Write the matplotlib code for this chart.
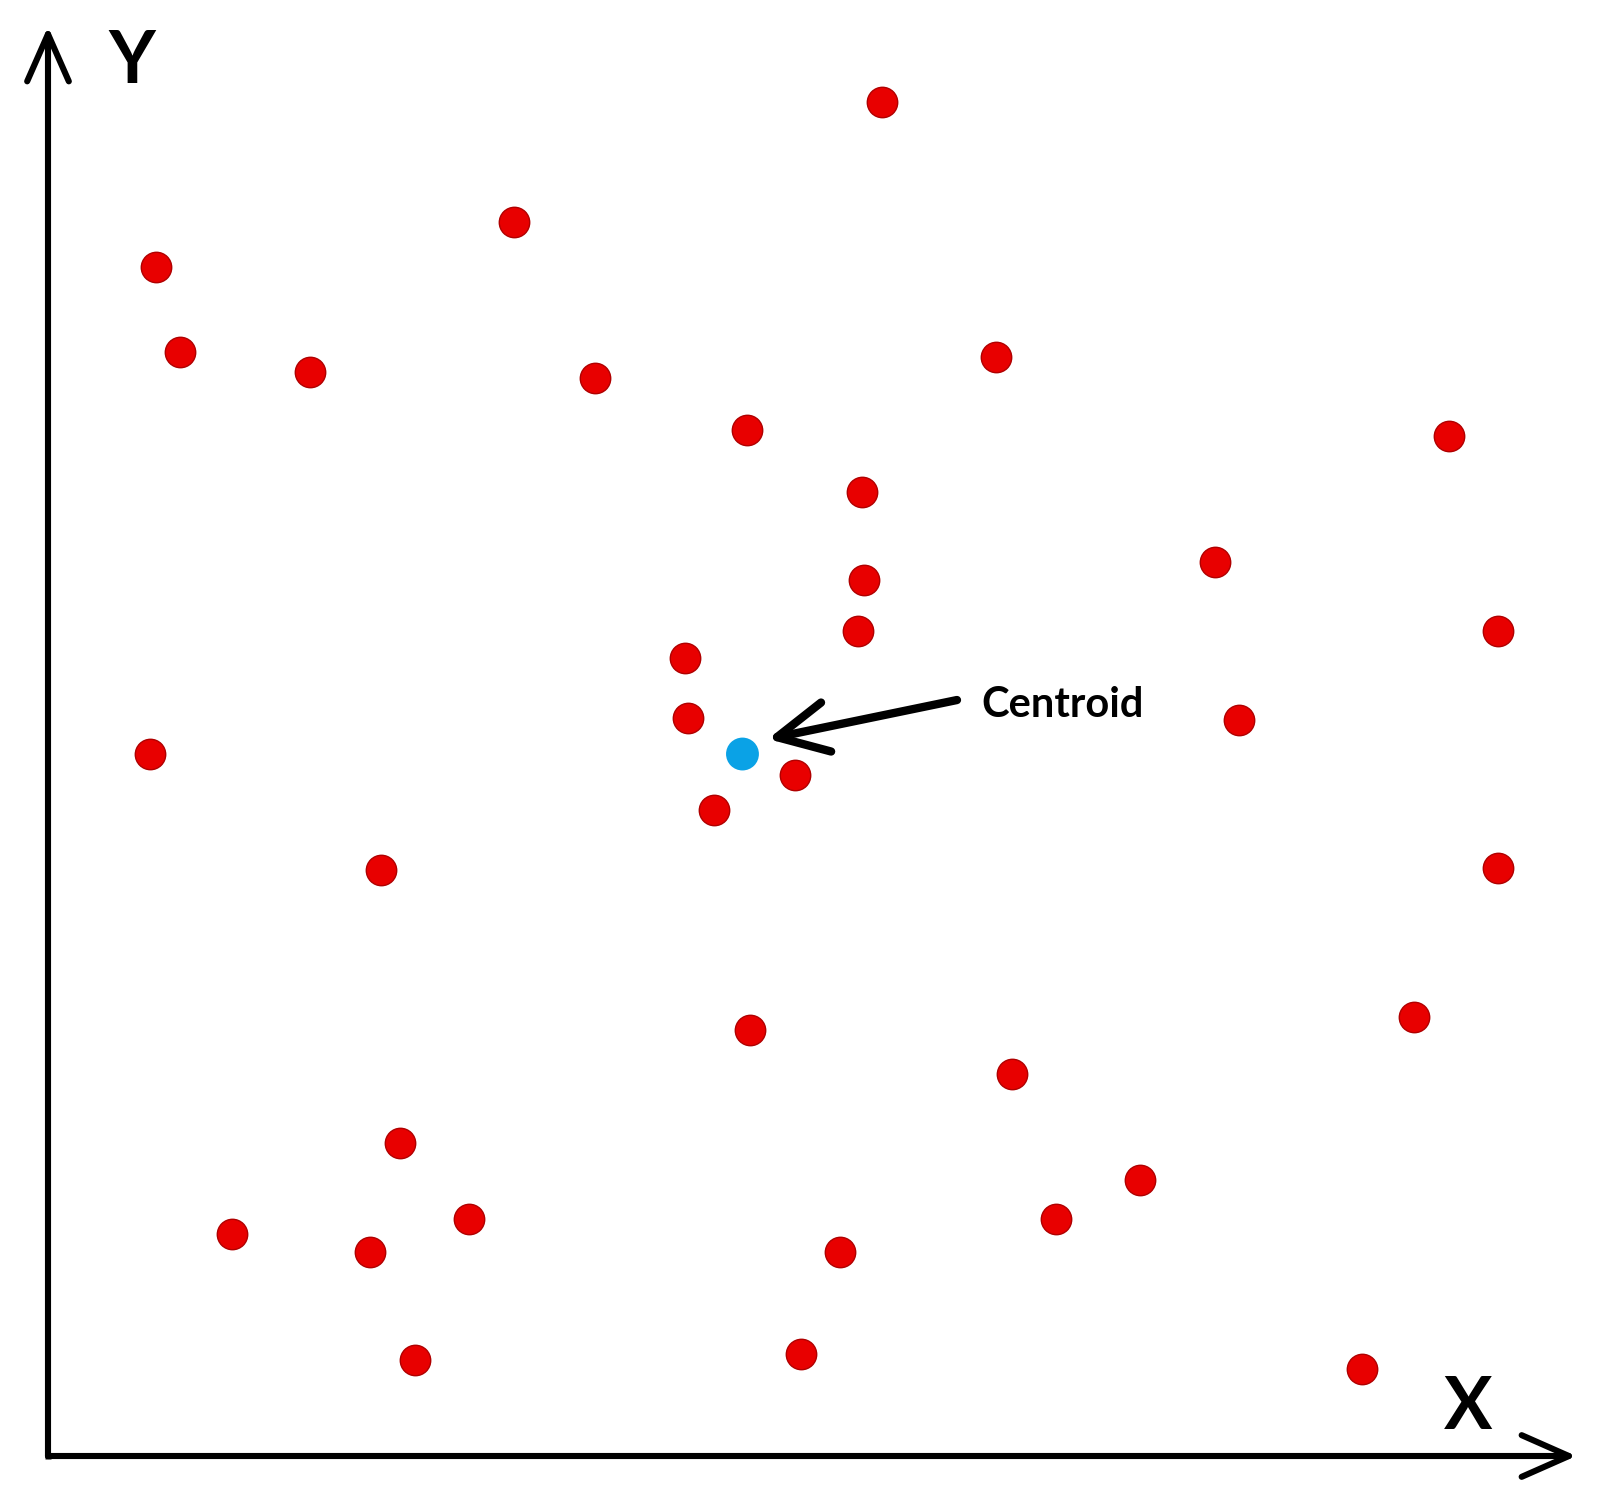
import matplotlib
matplotlib.use("Agg")
import matplotlib.pyplot as plt

# Data points (arbitrary units, origin at axes corner)
x_vals = [55.6, 31.1, 7.2, 8.8, 17.5, 36.5, 63.2, 46.6, 93.4, 54.3,
          77.8, 54.4, 54.0, 96.7, 42.5, 42.7, 79.4, 6.8, 49.8, 44.4,
          22.2, 96.7, 46.8, 91.1, 64.3, 23.5, 72.8, 12.3, 28.1, 67.2,
          21.5, 52.8, 24.5, 50.2, 87.6]
y_vals = [90.3, 82.3, 79.3, 73.6, 72.3, 71.9, 73.3, 68.4, 68.0, 64.3,
          59.6, 58.4, 55.0, 55.0, 53.2, 49.2, 49.1, 46.8, 45.4, 43.1,
          39.1, 39.2, 28.4, 29.3, 25.5, 20.9, 18.4, 14.8, 15.8, 15.8,
          13.6, 13.6, 6.4, 6.8, 5.8]
centroid = (46.3, 46.8)
centroid_label = "Centroid"
x_label = "X"
y_label = "Y"

fig = plt.figure(figsize=(16.03, 14.95), dpi=100)
ax = fig.add_axes([0, 0, 1, 1])
ax.set_xlim(-3.2, 103.67)
ax.set_ylim(-2.6, 97.07)
ax.axis("off")

# Axes arrows (drawn as single arrows from the origin)
arrow_kw = dict(arrowstyle="->,head_length=1.7,head_width=0.75", lw=4.4,
                color="black", mutation_scale=20, shrinkA=0, shrinkB=0)
ax.annotate("", xy=(0, 95.3), xytext=(0, 0), arrowprops=arrow_kw)
ax.annotate("", xy=(101.9, 0), xytext=(0, 0), arrowprops=arrow_kw)
ax.plot([0], [0], marker="s", markersize=4.4, color="black", mec="none")

ax.text(5.6, 92.9, y_label, fontsize=52, fontweight="bold", family="Lato",
        ha="center", va="center")
ax.text(94.7, 3.2, x_label, fontsize=52, fontweight="bold", family="Lato",
        ha="center", va="center")

# Points
ax.scatter(x_vals, y_vals, s=480, color="#E80000", edgecolors="#B00000",
           linewidths=1.0, zorder=3)
ax.scatter([centroid[0]], [centroid[1]], s=560, color="#0AA2E6",
           edgecolors="none", zorder=3)

# Centroid annotation
ax.annotate("", xy=(48.0, 47.8), xytext=(60.6, 50.4),
            arrowprops=dict(arrowstyle="->,head_length=1.8,head_width=0.9",
                            lw=6, color="black", mutation_scale=20,
                            shrinkA=0, shrinkB=0))
ax.text(62.2, 50.1, centroid_label, fontsize=30, fontweight="bold",
        family="Lato", ha="left", va="center")

fig.savefig("out.png", dpi=100)
